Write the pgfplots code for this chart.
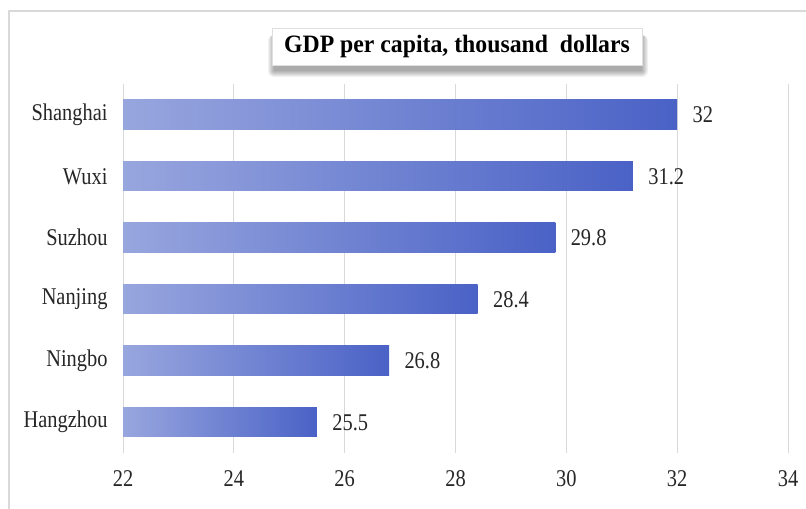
\documentclass[border=0pt]{standalone}
\usepackage{fontspec}
\setmainfont[FakeStretch=0.85]{Liberation Serif}
\newfontfamily\titlefont[FakeStretch=0.95]{Liberation Serif}
\usepackage{pgfplots}
\pgfplotsset{compat=1.18}
\definecolor{barL}{RGB}{152,166,222}
\definecolor{barR}{RGB}{74,98,198}
\definecolor{gridc}{RGB}{217,217,217}
\definecolor{txt}{RGB}{38,38,38}
\pgfplotsset{gbar/.style={xbar, bar width=29.5bp, bar shift=0pt, draw=none,
  left color=barL, right color=barR,
  point meta=explicit symbolic,
  nodes near coords,
  every node near coord/.append style={anchor=west, xshift=12bp, text=txt, font=\fontsize{24bp}{26bp}\selectfont}}}
\begin{document}
\begin{tikzpicture}[x=1bp,y=1bp]
\path[use as bounding box] (0,0) rectangle (806,509);
\draw[gridc, line width=1.2bp] (9,0) -- (9,498) -- (806,498);
\begin{axis}[
  at={(123bp,56bp)}, anchor=south west,
  width=665bp, height=369bp, scale only axis,
  x coord trafo/.code={\pgfmathparse{#1-22}},
  x coord inv trafo/.code={\pgfmathparse{#1+22}},
  xmin=22, xmax=34,
  ymin=-0.5, ymax=5.5,
  xtick={22,24,26,28,30,32,34},
  xticklabels={22,24,26,28,30,32,34},
  ytick={0,1,2,3,4,5},
  yticklabels={Hangzhou,Ningbo,Nanjing,Suzhou,Wuxi,Shanghai},
  axis line style={draw=none},
  major tick length=0pt,
  xmajorgrids, grid style={gridc, line width=1bp},
  ticklabel style={font=\fontsize{24bp}{26bp}\selectfont, text=txt},
  xticklabel style={yshift=-14bp},
  yticklabel style={xshift=-12bp},
  clip=false,
]
\addplot[gbar] coordinates {(25.5,0) [25.5]};
\addplot[gbar] coordinates {(26.8,1) [26.8]};
\addplot[gbar] coordinates {(28.4,2) [28.4]};
\addplot[gbar] coordinates {(29.8,3) [29.8]};
\addplot[gbar] coordinates {(31.2,4) [31.2]};
\addplot[gbar] coordinates {(32,5) [32]};
\end{axis}
\foreach \k in {0,1,...,6} {
  \fill[black, opacity=0.055, rounded corners=\k bp] (274-\k, 438-\k) rectangle (642+\k, 474);
}
\node[draw=gray!25, fill=white,
  minimum width=370bp, minimum height=37bp, inner sep=0pt,
  font=\titlefont\bfseries\fontsize{25bp}{28bp}\selectfont, text=black]
  at (457,462.5) {GDP per capita, thousand\ \ dollars};
\end{tikzpicture}
\end{document}
